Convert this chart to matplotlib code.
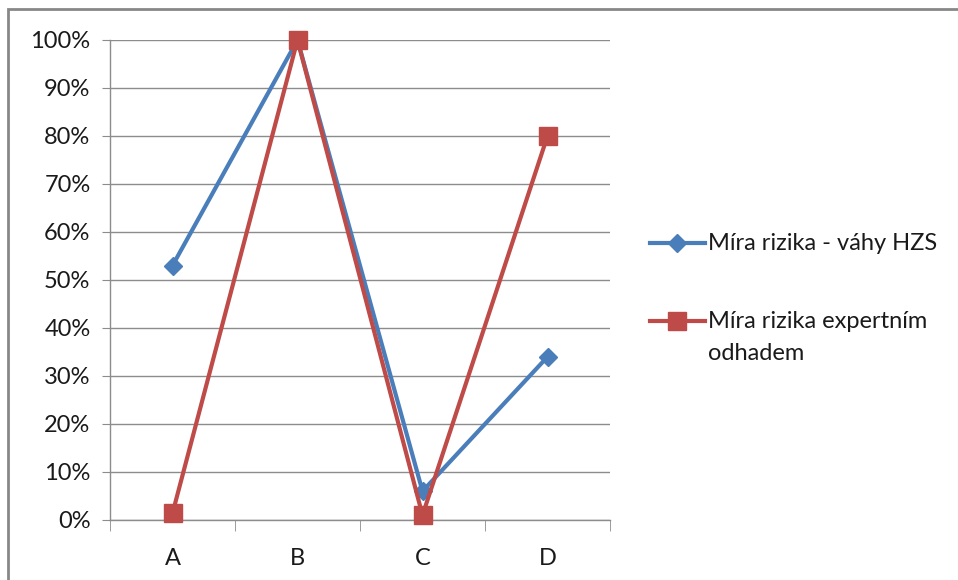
import matplotlib.pyplot as plt
from matplotlib.patches import Rectangle
from matplotlib.lines import Line2D

# --- data ---
categories = ["A", "B", "C", "D"]
hzs = [0.53, 1.00, 0.06, 0.34]
expert = [0.014, 1.00, 0.01, 0.80]
yticks = [i / 10 for i in range(11)]
ytick_labels = [f"{i * 10}%" for i in range(11)]
label_hzs = "Míra rizika - váhy HZS"
label_expert = "Míra rizika expertním\nodhadem"

BLUE = '#4a7ebb'
RED = '#be4b48'
TXT = '#1a1a1a'

plt.rcParams['font.family'] = ['Lato', 'DejaVu Sans']

fig = plt.figure(figsize=(9.58, 5.8), dpi=100)
W, H = 958, 580

# outer chart border (cut off right / bottom like the screenshot)
fig.patches.append(Rectangle((8 / W, -0.1), 1.1, (H - 9) / H + 0.1,
                             transform=fig.transFigure, fill=False,
                             edgecolor='#878787', linewidth=2))

ax = fig.add_axes([110 / W, 60 / H, 500 / W, 480 / H])
x = list(range(len(categories)))

ax.plot(x, hzs, color=BLUE, linewidth=3, marker='D', markersize=9,
        zorder=3, clip_on=False)
ax.plot(x, expert, color=RED, linewidth=3, marker='s', markersize=13,
        zorder=4, clip_on=False)

ax.set_xlim(-0.5, len(categories) - 0.5)
ax.set_ylim(0, 1)
ax.set_yticks(yticks)
ax.set_yticklabels(ytick_labels)
ax.set_xticks(x)
ax.set_xticklabels(categories)
ax.set_xticks([i - 0.5 for i in range(len(categories) + 1)], minor=True)

ax.grid(axis='y', color='#8c8c8c', linewidth=1)
ax.set_axisbelow(True)
for s in ['top', 'right']:
    ax.spines[s].set_visible(False)
for s in ['left', 'bottom']:
    ax.spines[s].set_color('#8c8c8c')
    ax.spines[s].set_linewidth(1)

ax.tick_params(axis='y', length=6, color='#8c8c8c', labelsize=17, pad=8,
               labelcolor=TXT)
ax.tick_params(axis='x', which='major', length=0, labelsize=17, pad=20,
               labelcolor=TXT)
ax.tick_params(axis='x', which='minor', length=8, color='#8c8c8c')

# --- legend, Excel style (handle aligned with first text line) ---
def legend_entry(ypix, color, marker, msize, label):
    yf = 1 - ypix / H
    fig.add_artist(Line2D([650 / W, 705 / W], [yf, yf], color=color,
                          linewidth=3, transform=fig.transFigure))
    fig.add_artist(Line2D([677 / W], [yf], color=color, marker=marker,
                          markersize=msize, transform=fig.transFigure))
    for i, line in enumerate(label.split("\n")):
        fig.text(708 / W, 1 - (ypix + i * 32) / H, line, fontsize=17,
                 color=TXT, va='center', ha='left')

legend_entry(243, BLUE, 'D', 9, label_hzs)
legend_entry(321, RED, 's', 13, label_expert)

fig.savefig("out.png", dpi=100)
